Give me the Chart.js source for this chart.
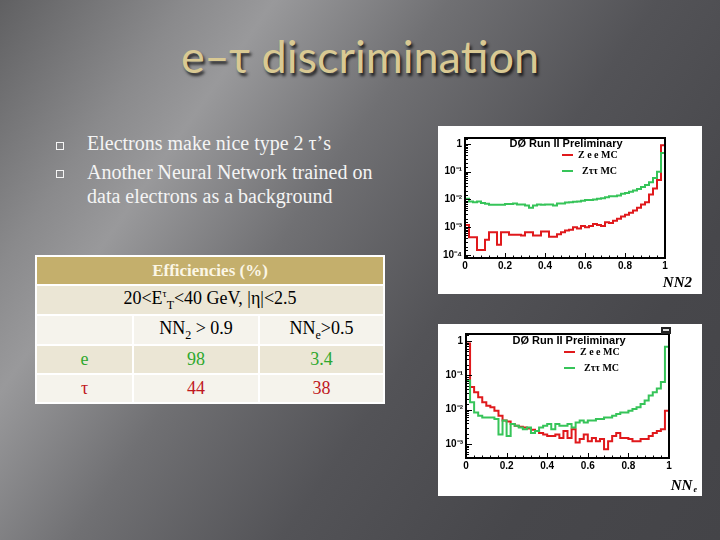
<!DOCTYPE html>
<html>
<head>
<meta charset="utf-8">
<script src="https://cdn.jsdelivr.net/npm/chart.js@4.4.1/dist/chart.umd.min.js"></script>
<style>
  html, body { margin: 0; padding: 0; }
  body {
    width: 720px; height: 540px; overflow: hidden; position: relative;
    background: linear-gradient(125deg, #606062 0%, #8a8a8c 17%, #99999b 25%, #707073 41%, #535357 60%, #47474b 80%, #444448 100%);
    font-family: "Liberation Serif", serif;
  }
  #title {
    position: absolute; left: 0; top: 29px; width: 720px; text-align: center;
    font-family: Lato, "Open Sans", sans-serif; font-size: 45px; color: #d9c993;
    text-shadow: 2px 3px 3px rgba(0,0,0,0.75);
  }
  .bullet { position: absolute; left: 87px; color: #f4f4f4; font-size: 20px; line-height: 24px; }
  .box { position: absolute; left: 56px; width: 6px; height: 6px; border: 1px solid #f4f4f4; }
  table {
    position: absolute; left: 35px; top: 255px; width: 350px; height: 147px;
    border-spacing: 2px; background: #ffffff; font-size: 18px; text-align: center;
  }
  td { padding: 0; }
  .hd td { background: #c4af6c; color: #fbf6e6; font-weight: bold; font-size: 17px; }
  .dk td { background: #ebe6d5; }
  .lt td { background: #f5f3ec; }
  .g { color: #2ea82e; }
  .r { color: #c0181c; }
  .plot { position: absolute; left: 438px; background: #ffffff; }
  canvas { display: block; }
</style>
</head>
<body>
<div id="title">e‒τ discrimination</div>

<div class="box" style="top:142px"></div>
<div class="bullet" style="top:131px">Electrons make nice type 2 τ’s</div>
<div class="box" style="top:170px"></div>
<div class="bullet" style="top:160px">Another Neural Network trained on<br>data electrons as a background</div>

<table>
  <tr class="hd" style="height:27px"><td colspan="3">Efficiencies (%)</td></tr>
  <tr class="dk" style="height:28px"><td colspan="3">20&lt;E<sup style="font-size:10px">τ</sup><sub style="font-size:12px">T</sub>&lt;40 GeV, |η|&lt;2.5</td></tr>
  <tr class="lt" style="height:28px"><td style="width:95px"></td><td style="width:124px">NN<sub style="font-size:12px">2</sub> &gt; 0.9</td><td>NN<sub style="font-size:12px">e</sub>&gt;0.5</td></tr>
  <tr class="dk" style="height:27px"><td class="g">e</td><td class="g">98</td><td class="g">3.4</td></tr>
  <tr class="lt" style="height:27px"><td class="r">τ</td><td class="r">44</td><td class="r">38</td></tr>
</table>

<div class="plot" style="top:126px;width:264px;height:168px"><canvas id="nn2" width="264" height="168"></canvas></div>
<div class="plot" style="top:324px;width:264px;height:172px"><canvas id="nne" width="264" height="172"></canvas></div>

<script>
// histogram bins: 50 bins from 0 to 1
const binWidth = 0.02

// NN2 output
const nn2Zee = [
  0.0012, 0.00043, 0.00043, 0.00015, 0.00015, 0.00035, 0.00066, 0.00066, 0.00023, 0.00066,
  0.00066, 0.00053, 0.00053, 0.00053, 0.0005, 0.00065, 0.00065, 0.0005, 0.0005, 0.0007,
  0.0007, 0.00045, 0.00045, 0.00055, 0.00065, 0.00075, 0.0008, 0.001, 0.0009, 0.0011,
  0.001, 0.0011, 0.0013, 0.0012, 0.0011, 0.0015, 0.0014, 0.0017, 0.002, 0.0024,
  0.0028, 0.0033, 0.004, 0.005, 0.0065, 0.008, 0.015, 0.025, 0.05, 0.9
]
const nn2Ztt = [
  0.0105, 0.0085, 0.008, 0.0085, 0.0075, 0.007, 0.0064, 0.0064, 0.0064, 0.0064,
  0.0068, 0.0068, 0.0072, 0.0066, 0.0066, 0.006, 0.005, 0.006, 0.0066, 0.0064,
  0.0066, 0.0066, 0.006, 0.0072, 0.0072, 0.0078, 0.008, 0.0082, 0.0085, 0.009,
  0.0095, 0.0095, 0.01, 0.0105, 0.011, 0.012, 0.013, 0.013, 0.014, 0.016,
  0.017, 0.019, 0.021, 0.024, 0.028, 0.033, 0.042, 0.06, 0.1, 0.47
]

// NNe output
const nneZee = [
  0.85, 0.046, 0.032, 0.023, 0.0165, 0.013, 0.0117, 0.0093, 0.0066, 0.0048,
  0.0045, 0.0038, 0.0034, 0.0032, 0.003, 0.0028, 0.0026, 0.0024, 0.0021, 0.0019,
  0.0017, 0.0017, 0.0019, 0.0015, 0.0024, 0.0015, 0.0027, 0.0011, 0.0014, 0.0019,
  0.0012, 0.0015, 0.0012, 0.0014, 0.0007, 0.0012, 0.0017, 0.0021, 0.0015, 0.0015,
  0.0014, 0.0012, 0.0012, 0.0014, 0.0014, 0.0017, 0.0021, 0.0024, 0.0027, 0.0093
]
const nneZtt = [
  0.071, 0.0165, 0.0083, 0.0066, 0.0059, 0.0059, 0.0059, 0.0053, 0.0019, 0.0048,
  0.0017, 0.0038, 0.0034, 0.003, 0.0027, 0.003, 0.0021, 0.0024, 0.003, 0.0034,
  0.0038, 0.0027, 0.0038, 0.0034, 0.0034, 0.0038, 0.003, 0.0042, 0.0048, 0.0042,
  0.0048, 0.0048, 0.0053, 0.0053, 0.0059, 0.0059, 0.0066, 0.0075, 0.0083, 0.0083,
  0.0093, 0.0105, 0.0117, 0.0147, 0.0185, 0.026, 0.032, 0.041, 0.064, 0.68
]

const xTicks = ['0', '0.2', '0.4', '0.6', '0.8', '1']
const seriesNames = ['Z e e MC', 'Zττ MC']
const headerText = 'DØ Run II Preliminary'
const RED = '#e0191c'
const GREEN = '#36c459'

const sup = { '-': '⁻', '0': '⁰', '1': '¹', '2': '²', '3': '³', '4': '⁴', '5': '⁵' }

// bin contents -> step points (left edges + closing right edge)
const toSteps = (vals) => {
  const pts = vals.map((v, i) => ({ x: i * binWidth, y: v }))
  pts.push({ x: vals.length * binWidth, y: vals[vals.length - 1] })
  return pts
}

const rootLook = {
  id: 'rootLook',
  afterDraw(chart, args, o) {
    const c = chart.ctx
    const a = chart.chartArea
    const xs = chart.scales.x, ys = chart.scales.y
    c.save()
    c.strokeStyle = '#000'
    // inward ticks
    c.lineWidth = 1
    xs.ticks.forEach(t => {
      const px = Math.round(xs.getPixelForValue(t.value)) + 0.5
      const len = t.label !== '' ? 5 : 2.5
      c.beginPath(); c.moveTo(px, a.bottom); c.lineTo(px, a.bottom - len); c.stroke()
    })
    ys.ticks.forEach(t => {
      if (t.value <= ys.min || t.value >= ys.max) return
      const py = Math.round(ys.getPixelForValue(t.value)) + 0.5
      const len = t.label !== '' ? 6 : 3
      c.beginPath(); c.moveTo(a.left, py); c.lineTo(a.left + len, py); c.stroke()
    })
    // frame
    c.lineWidth = 2
    c.strokeRect(a.left, a.top, a.right - a.left, a.bottom - a.top)
    // header + legend
    c.fillStyle = '#000'
    c.textBaseline = 'middle'
    c.textAlign = 'center'
    c.font = 'bold 11px "Liberation Sans", Arial, sans-serif'
    c.fillText(headerText, a.left + o.hx, a.top + o.hy)
    c.textAlign = 'left'
    c.font = 'bold 10px "Liberation Serif", serif'
    const cols = [RED, GREEN]
    seriesNames.forEach((name, i) => {
      const y = a.top + o.ly[i]
      c.strokeStyle = cols[i]; c.lineWidth = 2
      c.beginPath(); c.moveTo(a.left + o.lx, y); c.lineTo(a.left + o.lx + 11, y); c.stroke()
      c.fillStyle = '#000'
      c.fillText(name, a.left + o.lx + 16 + (i ? 4 : 0), y)
    })
    // axis title
    c.textAlign = 'right'
    c.textBaseline = 'alphabetic'
    c.font = 'italic bold 15px "Liberation Serif", serif'
    if (o.sub) {
      c.font = 'italic bold 8px "Liberation Serif", serif'
      const w = c.measureText(o.sub).width
      c.fillText(o.sub, o.tx, o.ty + 2)
      c.font = 'italic bold 15px "Liberation Serif", serif'
      c.fillText(o.title, o.tx - w - 1, o.ty)
    } else {
      c.fillText(o.title, o.tx, o.ty)
    }
    if (o.badge) {
      c.fillStyle = '#222'
      c.fillRect(a.right - 8, 3, 10, 7)
      c.fillStyle = '#ddd'
      c.fillRect(a.right - 6, 5, 6, 2)
    }
    c.restore()
  }
}

const makeHist = (id, zee, ztt, cfg) => {
  const tickFont = { family: '"Liberation Sans", Arial, sans-serif', size: 10, weight: 'bold' }
  new Chart(document.getElementById(id), {
    type: 'line',
    data: {
      datasets: [
        { label: seriesNames[1], data: toSteps(ztt), borderColor: GREEN, borderWidth: 2, stepped: true, pointRadius: 0, fill: false },
        { label: seriesNames[0], data: toSteps(zee), borderColor: RED, borderWidth: 2, stepped: true, pointRadius: 0, fill: false }
      ]
    },
    options: {
      responsive: false,
      animation: false,
      layout: { padding: cfg.padding },
      plugins: { legend: { display: false }, tooltip: { enabled: false }, rootLook: cfg.look },
      scales: {
        x: {
          type: 'linear', min: 0, max: 1,
          grid: { display: false, drawTicks: false }, border: { display: false },
          ticks: {
            stepSize: 0.04, autoSkip: false, maxRotation: 0, padding: 2, color: '#000', font: tickFont,
            callback: (v) => {
              const k = v / 0.2
              return Math.abs(k - Math.round(k)) < 1e-6 ? xTicks[Math.round(k)] : ''
            }
          },
          afterFit: (s) => { s.height = 14 }
        },
        y: {
          type: 'logarithmic', min: cfg.yMin, max: cfg.yMax,
          grid: { display: false, drawTicks: false }, border: { display: false },
          ticks: {
            autoSkip: false, padding: 3, color: '#000', font: tickFont,
            callback: (v) => {
              const l = Math.log10(v)
              if (Math.abs(l - Math.round(l)) > 1e-9) return ''
              const e = Math.round(l)
              if (e === 0) return '1'
              return '10' + String(e).split('').map(ch => sup[ch]).join('')
            }
          },
          afterFit: (s) => { s.width = cfg.yWidth }
        }
      }
    },
    plugins: [rootLook]
  })
}

makeHist('nn2', nn2Zee, nn2Ztt, {
  yMin: 7.7e-5, yMax: 1.65, yWidth: 27,
  padding: { top: 12, right: 37, bottom: 22, left: 0 },
  look: { hx: 101, hy: 6, lx: 97, ly: [17, 33], title: 'NN2', tx: 254, ty: 161 }
})

makeHist('nne', nneZee, nneZtt, {
  yMin: 3.9e-4, yMax: 1.6, yWidth: 28,
  padding: { top: 10, right: 33, bottom: 24, left: 0 },
  look: { hx: 103, hy: 7, lx: 98, ly: [18, 34], title: 'NN', sub: 'e', tx: 259, ty: 166, badge: true }
})
</script>
</body>
</html>
